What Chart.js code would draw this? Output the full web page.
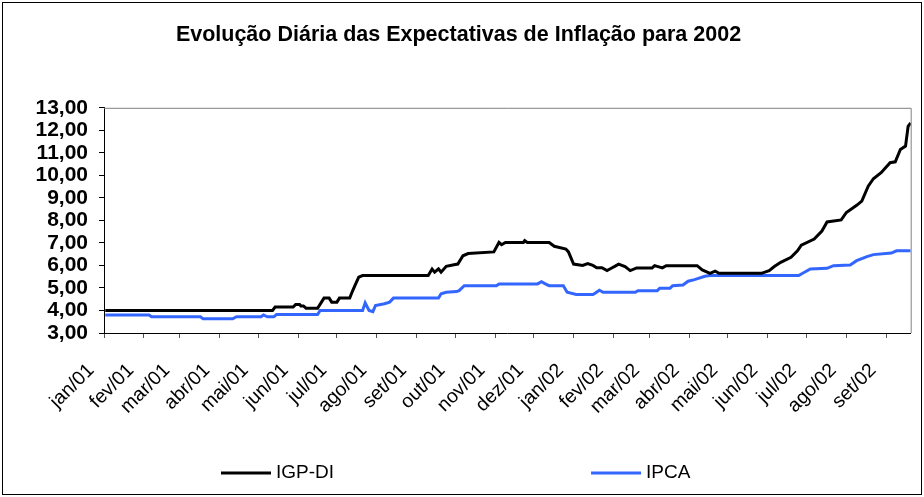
<!DOCTYPE html>
<html>
<head>
<meta charset="utf-8">
<script src="https://cdn.jsdelivr.net/npm/chart.js@4.4.1/dist/chart.umd.min.js"></script>
<style>
  html, body { margin: 0; padding: 0; background: #fff; }
</style>
</head>
<body>
<canvas id="chart" width="924" height="497"></canvas>
<script>
// month ticks on the x axis
const tickDates = ['2001-01-01', '2001-02-01', '2001-03-01', '2001-04-01', '2001-05-01', '2001-06-01',
  '2001-07-01', '2001-08-01', '2001-09-01', '2001-10-01', '2001-11-01', '2001-12-01',
  '2002-01-01', '2002-02-01', '2002-03-01', '2002-04-01', '2002-05-01', '2002-06-01',
  '2002-07-01', '2002-08-01', '2002-09-01'];
const tickLabels = ['jan/01', 'fev/01', 'mar/01', 'abr/01', 'mai/01', 'jun/01', 'jul/01', 'ago/01',
  'set/01', 'out/01', 'nov/01', 'dez/01', 'jan/02', 'fev/02', 'mar/02', 'abr/02', 'mai/02',
  'jun/02', 'jul/02', 'ago/02', 'set/02'];

// IGP-DI expectations
const igpDates = ['2001-01-02', '2001-05-12', '2001-05-14', '2001-05-28', '2001-05-30', '2001-06-02',
  '2001-06-03', '2001-06-05', '2001-06-07', '2001-06-16', '2001-06-21', '2001-06-25', '2001-06-27',
  '2001-07-01', '2001-07-03', '2001-07-11', '2001-07-13', '2001-07-15', '2001-07-18', '2001-07-21',
  '2001-09-10', '2001-09-13', '2001-09-15', '2001-09-18', '2001-09-20', '2001-09-24', '2001-09-30',
  '2001-10-03', '2001-10-07', '2001-10-11', '2001-10-31', '2001-11-04', '2001-11-06', '2001-11-09',
  '2001-11-23', '2001-11-24', '2001-11-26', '2001-12-13', '2001-12-17', '2001-12-26', '2001-12-28',
  '2002-01-01', '2002-01-08', '2002-01-12', '2002-01-16', '2002-01-19', '2002-01-23', '2002-01-27',
  '2002-01-31', '2002-02-02', '2002-02-05', '2002-02-10', '2002-02-14', '2002-02-19', '2002-03-03',
  '2002-03-05', '2002-03-11', '2002-03-14', '2002-04-07', '2002-04-11', '2002-04-17', '2002-04-21',
  '2002-04-24', '2002-05-27', '2002-06-02', '2002-06-06', '2002-06-11', '2002-06-19', '2002-06-24',
  '2002-06-27', '2002-07-07', '2002-07-13', '2002-07-17', '2002-07-28', '2002-08-01', '2002-08-09',
  '2002-08-13', '2002-08-18', '2002-08-22', '2002-08-28', '2002-09-04', '2002-09-08', '2002-09-12',
  '2002-09-16', '2002-09-18', '2002-09-20'];
const igpValues = [4.00, 4.00, 4.15, 4.15, 4.27, 4.27,
  4.20, 4.20, 4.10, 4.10, 4.55, 4.55, 4.37,
  4.37, 4.55, 4.55, 4.84, 5.10, 5.48, 5.55,
  5.55, 5.84, 5.70, 5.85, 5.70, 5.96, 6.03,
  6.06, 6.43, 6.53, 6.60, 7.02, 6.92, 7.02,
  7.02, 7.10, 7.02, 7.02, 6.85, 6.73, 6.60,
  6.06, 6.00, 6.08, 6.00, 5.90, 5.90, 5.77,
  5.90, 5.96, 6.06, 5.95, 5.77, 5.89, 5.89,
  5.99, 5.89, 5.99, 5.99, 5.80, 5.65, 5.75,
  5.65, 5.65, 5.77, 5.95, 6.14, 6.36, 6.65,
  6.90, 7.17, 7.53, 7.93, 8.02, 8.35, 8.67,
  8.86, 9.52, 9.85, 10.12, 10.56, 10.60, 11.15,
  11.30, 12.18, 12.33];

// IPCA expectations
const ipcaDates = ['2001-01-02', '2001-02-05', '2001-02-07', '2001-03-17', '2001-03-19', '2001-04-11',
  '2001-04-14', '2001-05-03', '2001-05-05', '2001-05-08', '2001-05-13', '2001-05-15', '2001-06-16',
  '2001-06-18', '2001-07-21', '2001-07-23', '2001-07-26', '2001-07-29', '2001-07-31', '2001-08-07',
  '2001-08-11', '2001-08-14', '2001-09-18', '2001-09-20', '2001-09-24', '2001-10-02', '2001-10-04',
  '2001-10-08', '2001-11-02', '2001-11-04', '2001-12-04', '2001-12-07', '2001-12-10', '2001-12-13',
  '2001-12-24', '2001-12-27', '2002-01-03', '2002-01-16', '2002-01-18', '2002-01-21', '2002-01-24',
  '2002-02-18', '2002-02-20', '2002-03-07', '2002-03-09', '2002-03-17', '2002-03-19', '2002-03-27',
  '2002-03-31', '2002-04-05', '2002-04-13', '2002-04-17', '2002-06-25', '2002-06-27', '2002-07-04',
  '2002-07-17', '2002-07-22', '2002-08-04', '2002-08-09', '2002-08-17', '2002-08-22', '2002-09-05',
  '2002-09-09', '2002-09-20'];
const ipcaValues = [3.80, 3.80, 3.72, 3.72, 3.63, 3.63,
  3.72, 3.72, 3.80, 3.72, 3.72, 3.82, 3.82,
  4.00, 4.00, 4.34, 4.00, 3.95, 4.22, 4.30,
  4.37, 4.55, 4.55, 4.74, 4.81, 4.84, 4.88,
  5.10, 5.10, 5.18, 5.18, 5.28, 5.18, 5.10,
  5.10, 4.81, 4.71, 4.71, 4.78, 4.90, 4.81,
  4.81, 4.88, 4.88, 4.99, 4.99, 5.10, 5.13,
  5.30, 5.37, 5.52, 5.55, 5.55, 5.62, 5.84,
  5.87, 5.99, 6.02, 6.21, 6.39, 6.48, 6.55,
  6.65, 6.65];

const startDate = '2001-01-01';
const endDate = '2002-09-20';

function dayIndex(s) {
  const [y, m, d] = s.split('-').map(Number);
  const [y0, m0, d0] = startDate.split('-').map(Number);
  return Math.round((Date.UTC(y, m - 1, d) - Date.UTC(y0, m0 - 1, d0)) / 86400000);
}

const tickDays = tickDates.map(dayIndex);
const toPoints = (dates, values) => dates.map((d, i) => ({ x: dayIndex(d), y: values[i] }));

Chart.defaults.font.family = '"Liberation Sans", Arial, sans-serif';
Chart.defaults.color = '#000';

// border round the plot and the whole chart, plus a spread-out legend like the original
const frame = {
  id: 'frame',
  beforeDraw(chart) {
    const { ctx, width, height } = chart;
    ctx.save();
    ctx.fillStyle = '#fff';
    ctx.fillRect(0, 0, width, height);
    ctx.strokeStyle = '#000';
    ctx.lineWidth = 1;
    ctx.strokeRect(2.5, 2.5, width - 5, height - 5);
    ctx.restore();
  },
  beforeDatasetsDraw(chart) {
    const { ctx, chartArea: a } = chart;
    ctx.save();
    ctx.strokeStyle = '#808080';
    ctx.lineWidth = 1;
    ctx.beginPath();
    ctx.moveTo(a.left, a.top + 0.5);
    ctx.lineTo(a.right + 0.5, a.top + 0.5);
    ctx.lineTo(a.right + 0.5, a.bottom);
    ctx.stroke();
    ctx.restore();
  },
  afterDraw(chart) {
    const { ctx, width } = chart;
    const sets = chart.data.datasets;
    const lineLen = 50, gap = 5, spacing = 257, y = 473;
    ctx.save();
    ctx.font = '19px "Liberation Sans", Arial, sans-serif';
    ctx.textBaseline = 'middle';
    const widths = sets.map(s => lineLen + gap + ctx.measureText(s.label).width);
    const total = widths.reduce((a, b) => a + b, 0) + spacing * (sets.length - 1);
    let x = Math.round((width - total) / 2) - 6;
    sets.forEach((s, i) => {
      ctx.strokeStyle = s.borderColor;
      ctx.lineWidth = 3;
      ctx.beginPath();
      ctx.moveTo(x, y);
      ctx.lineTo(x + lineLen, y);
      ctx.stroke();
      ctx.fillStyle = '#000';
      ctx.fillText(s.label, x + lineLen + gap, y);
      x += widths[i] + spacing;
    });
    ctx.restore();
  }
};

new Chart(document.getElementById('chart'), {
  type: 'line',
  data: {
    datasets: [
      {
        label: 'IGP-DI',
        data: toPoints(igpDates, igpValues),
        borderColor: '#000000',
        borderWidth: 3,
        pointRadius: 0,
        fill: false,
        tension: 0
      },
      {
        label: 'IPCA',
        data: toPoints(ipcaDates, ipcaValues),
        borderColor: '#3366FF',
        borderWidth: 3,
        pointRadius: 0,
        fill: false,
        tension: 0
      }
    ]
  },
  options: {
    responsive: false,
    animation: false,
    layout: { padding: { top: 0, left: 0, right: 7, bottom: 60 } },
    plugins: {
      legend: { display: false },
      tooltip: { enabled: false },
      title: {
        display: true,
        text: 'Evolução Diária das Expectativas de Inflação para 2002',
        color: '#000',
        font: { size: 21.5, weight: 'bold' },
        padding: { top: 22, bottom: 60 }
      }
    },
    scales: {
      x: {
        type: 'linear',
        min: 0,
        max: dayIndex(endDate),
        afterBuildTicks: (scale) => {
          scale.ticks = tickDays.map(v => ({ value: v }));
        },
        afterFit: (scale) => { scale.height = 104; },
        grid: { drawOnChartArea: false, tickLength: 5, color: '#555' },
        border: { color: '#000', width: 1 },
        ticks: {
          autoSkip: false,
          minRotation: 45,
          maxRotation: 45,
          padding: 21,
          labelOffset: -13,
          font: { size: 19.5 },
          callback: (value) => {
            const i = tickDays.indexOf(value);
            return i >= 0 ? tickLabels[i] : '';
          }
        }
      },
      y: {
        min: 3,
        max: 13,
        afterFit: (scale) => { scale.width = 104; },
        grid: { drawOnChartArea: false, tickLength: 5, color: '#000' },
        border: { color: '#000', width: 1 },
        ticks: {
          autoSkip: false,
          stepSize: 1,
          padding: 11,
          font: { size: 21, weight: 'bold' },
          callback: (v) => v.toFixed(2).replace('.', ',')
        }
      }
    }
  },
  plugins: [frame]
});
</script>
</body>
</html>
